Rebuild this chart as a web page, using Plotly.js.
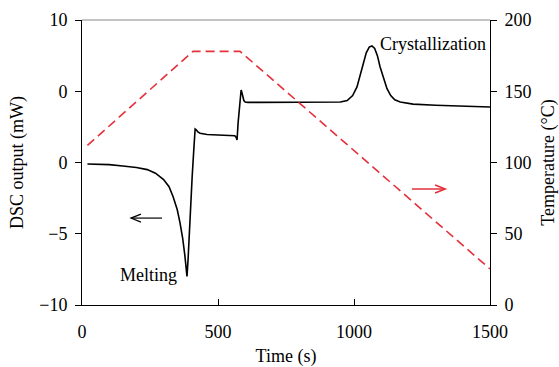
<!DOCTYPE html>
<html>
<head>
<meta charset="utf-8">
<script src="https://cdn.plot.ly/plotly-3.0.1.min.js"></script>
<style>html,body{margin:0;padding:0;background:#fff;}#chart{width:559px;height:367px;}</style>
</head>
<body>
<div id="chart"></div>
<script>
// DSC output (mW) vs time (s)
const dscTime = [20, 100, 150, 200, 240, 270, 300, 320, 335, 350, 360, 370, 378, 383, 386, 390, 397, 405, 412, 416, 420, 426, 434, 460, 500, 540, 562, 567, 570, 574, 580, 585, 588, 591, 595, 600, 610, 650, 750, 850, 950, 975, 995, 1011, 1022, 1033, 1045, 1056, 1066, 1076, 1086, 1096, 1108, 1121, 1135, 1150, 1170, 1217, 1300, 1400, 1500];
const dscValue = [-0.1, -0.15, -0.25, -0.35, -0.5, -0.75, -1.2, -1.7, -2.4, -3.3, -4.2, -5.3, -6.5, -7.4, -8.0, -6.8, -3.8, -1.0, 1.2, 2.35, 2.3, 2.15, 2.05, 1.97, 1.93, 1.9, 1.88, 1.75, 1.58, 2.8, 4.2, 5.09, 4.9, 4.55, 4.35, 4.25, 4.22, 4.22, 4.22, 4.22, 4.25, 4.35, 4.7, 5.3, 6.1, 7.0, 7.7, 8.1, 8.18, 8.0, 7.5, 6.7, 5.9, 5.2, 4.7, 4.4, 4.25, 4.1, 4.02, 3.95, 3.9];

// Temperature program (°C) vs time (s)
const tempTime = [20, 408, 581, 1500];
const tempValue = [112, 178, 178, 25.3];

// Axis ticks (labels as printed in the original)
const xTicks = [0, 500, 1000, 1500];
const yLeftTicks = [-10, -5, 0, 5, 10];
const yLeftTickText = ['\u221210', '\u22125', '0', '0', '10'];
const yRightTicks = [0, 50, 100, 150, 200];

// Annotation anchors
const blackArrowTime = [294, 180];   // tail, tip
const blackArrowDsc = -3.9;
const redArrowTime = [1213, 1335];   // tail, tip
const redArrowTemp = 81.4;
const labelMelting = {t: 246, v: -7.9, text: 'Melting'};
const labelCryst = {t: 1090, v: 8.3, text: 'Crystallization'};

const FONT = 'Liberation Serif, Times New Roman, serif';
const RED = '#e3303a';
const FS = 18;

const traces = [
  {x: tempTime, y: tempValue, yaxis: 'y2', mode: 'lines', type: 'scatter',
   line: {color: RED, width: 1.6, dash: '9px,5px'}, hoverinfo: 'skip'},
  {x: dscTime, y: dscValue, mode: 'lines', type: 'scatter',
   line: {color: '#000', width: 1.6}, hoverinfo: 'skip'}
];

function arrowShapes(tail, tip, yv, yref, color, width) {
  const dir = tip > tail ? -1 : 1; // head opens back toward tail
  return [
    {type: 'line', xref: 'x', yref: yref, x0: tail, x1: tip, y0: yv, y1: yv,
     line: {color: color, width: width}},
    {type: 'path', xref: 'x', yref: yref, xsizemode: 'pixel', ysizemode: 'pixel',
     xanchor: tip, yanchor: yv,
     path: 'M ' + (dir * 10) + ' 4 L 0 0 L ' + (dir * 10) + ' -4',
     line: {color: color, width: width}}
  ];
}

const shapes = [
  {type: 'line', xref: 'paper', yref: 'paper', x0: 0, x1: 1, y0: 1, y1: 1,
   line: {color: '#888', width: 1}}
].concat(
  arrowShapes(blackArrowTime[0], blackArrowTime[1], blackArrowDsc, 'y', '#000', 1.2),
  arrowShapes(redArrowTime[0], redArrowTime[1], redArrowTemp, 'y2', RED, 1.6)
);

const layout = {
  width: 559, height: 367,
  margin: {l: 82, r: 69, t: 20, b: 62},
  paper_bgcolor: '#fff', plot_bgcolor: '#fff',
  showlegend: false,
  font: {family: FONT, size: FS, color: '#000'},
  xaxis: {
    range: [0, 1500], tickvals: xTicks, ticks: 'inside', ticklen: 6, tickcolor: '#000',
    ticklabelstandoff: 10,
    showline: true, linecolor: '#000', linewidth: 1, showgrid: false, zeroline: false,
    title: {text: 'Time (s)', standoff: 12, font: {family: FONT, size: FS}},
    automargin: false
  },
  yaxis: {
    range: [-10, 10], tickvals: yLeftTicks, ticktext: yLeftTickText, ticks: 'outside',
    ticklen: 6, tickcolor: '#000', ticklabelstandoff: 4,
    showline: true, linecolor: '#000', linewidth: 1,
    showgrid: false, zeroline: false,
    title: {text: 'DSC output (mW)', standoff: 10, font: {family: FONT, size: FS}},
    automargin: false
  },
  yaxis2: {
    range: [0, 200], tickvals: yRightTicks, overlaying: 'y', side: 'right',
    ticks: 'outside', ticklen: 6, tickcolor: '#000', ticklabelstandoff: 4,
    showline: true, linecolor: '#000',
    linewidth: 1, showgrid: false, zeroline: false,
    title: {text: 'Temperature (\u00B0C)', standoff: 13, font: {family: FONT, size: FS}},
    automargin: false
  },
  shapes: shapes,
  annotations: [
    {x: labelMelting.t, y: labelMelting.v, xref: 'x', yref: 'y', text: labelMelting.text,
     showarrow: false, xanchor: 'center', yanchor: 'middle', font: {family: FONT, size: FS}},
    {x: labelCryst.t, y: labelCryst.v, xref: 'x', yref: 'y', text: labelCryst.text,
     showarrow: false, xanchor: 'left', yanchor: 'middle', font: {family: FONT, size: FS}}
  ]
};

Plotly.newPlot('chart', traces, layout, {staticPlot: true, displayModeBar: false});
</script>
</body>
</html>
